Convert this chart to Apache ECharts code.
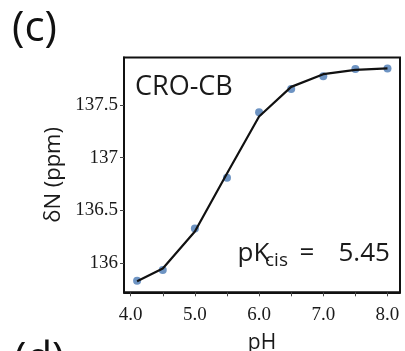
<!DOCTYPE html>
<html>
<head>
<meta charset="utf-8">
<style>
  html, body { margin: 0; padding: 0; background: #fff; }
  #chart { width: 405px; height: 351px; }
</style>
<script src="https://cdn.jsdelivr.net/npm/echarts@6/dist/echarts.min.js"></script>
</head>
<body>
<div id="chart"></div>
<script>
// pH titration of CRO-CB
const phValues = [4.1, 4.5, 5.0, 5.5, 6.0, 6.5, 7.0, 7.5, 8.0];
const observedShift = [135.835, 135.937, 136.33, 136.81, 137.43, 137.65, 137.77, 137.84, 137.845];
const fittedShift = [135.83, 135.95, 136.30, 136.85, 137.39, 137.67, 137.79, 137.83, 137.845];

const xTickValues = [4.0, 4.5, 5.0, 5.5, 6.0, 6.5, 7.0, 7.5, 8.0];
const xLabelValues = [4.0, 5.0, 6.0, 7.0, 8.0];
const yTickValues = [136, 136.5, 137, 137.5];

const sans = "'Open Sans', 'Noto Sans', sans-serif";
const serif = "'Liberation Serif', 'DejaVu Serif', serif";

const chart = echarts.init(document.getElementById("chart"), null, { renderer: "canvas" });

chart.setOption({
  animation: false,
  backgroundColor: "#fff",
  grid: {
    left: 124,
    right: 5,
    top: 57.5,
    bottom: 58.7,
    outerBoundsMode: "none",
    containLabel: false,
    show: true,
    borderColor: "#111",
    borderWidth: 2,
    backgroundColor: "transparent"
  },
  xAxis: {
    type: "value",
    min: 3.896,
    max: 8.195,
    name: "pH",
    nameLocation: "middle",
    nameGap: 40,
    nameTextStyle: { fontFamily: sans, fontSize: 21, color: "#1a1a1a" },
    axisLine: { show: true, lineStyle: { color: "#111", width: 2 } },
    axisTick: {
      show: true,
      customValues: xTickValues,
      length: 4,
      lineStyle: { color: "#444", width: 1 }
    },
    axisLabel: {
      customValues: xLabelValues,
      formatter: v => v.toFixed(1),
      fontFamily: serif,
      fontSize: 19,
      color: "#1a1a1a",
      margin: 13
    },
    splitLine: { show: false }
  },
  yAxis: {
    type: "value",
    min: 135.725,
    max: 137.948,
    name: "δN (ppm)",
    nameLocation: "middle",
    nameGap: 55,
    nameTextStyle: { fontFamily: sans, fontSize: 22, color: "#1a1a1a" },
    axisLine: { show: true, lineStyle: { color: "#111", width: 2 } },
    axisTick: {
      show: true,
      customValues: yTickValues,
      length: 4,
      lineStyle: { color: "#444", width: 1 }
    },
    axisLabel: {
      customValues: yTickValues,
      formatter: v => String(v),
      fontFamily: serif,
      fontSize: 19,
      color: "#1a1a1a",
      margin: 6,
      padding: [8, 0, 0, 0]
    },
    splitLine: { show: false }
  },
  graphic: [
    { type: "text", x: 12, y: 29,
      style: { text: "(c)", font: "42px " + sans, fill: "#111", verticalAlign: "middle" } },
    { type: "text", x: 14, y: 360,
      style: { text: "(d)", font: "42px " + sans, fill: "#111", verticalAlign: "middle" } },
    { type: "text", x: 135, y: 87,
      style: { text: "CRO-CB", font: "27px " + sans, fill: "#1a1a1a", verticalAlign: "middle" } },
    { type: "text", x: 237.5, y: 253.6,
      style: { text: "pK", font: "26px " + sans, fill: "#1a1a1a", verticalAlign: "middle" } },
    { type: "text", x: 265, y: 260.6,
      style: { text: "cis", font: "19px " + sans, fill: "#1a1a1a", verticalAlign: "middle" } },
    { type: "text", x: 299.5, y: 253.6,
      style: { text: "=", font: "26px " + sans, fill: "#1a1a1a", verticalAlign: "middle" } },
    { type: "text", x: 338.5, y: 253.6,
      style: { text: "5.45", font: "26px " + sans, fill: "#1a1a1a", verticalAlign: "middle" } }
  ],
  series: [
    {
      name: "observed",
      type: "scatter",
      data: phValues.map((x, i) => [x, observedShift[i]]),
      symbol: "circle",
      symbolSize: 8,
      itemStyle: { color: "#4a79b4" },
      z: 2
    },
    {
      name: "fit",
      type: "line",
      data: phValues.map((x, i) => [x, fittedShift[i]]),
      showSymbol: false,
      symbol: "none",
      lineStyle: { color: "#111", width: 2.2 },
      z: 3
    }
  ]
});
</script>
</body>
</html>
